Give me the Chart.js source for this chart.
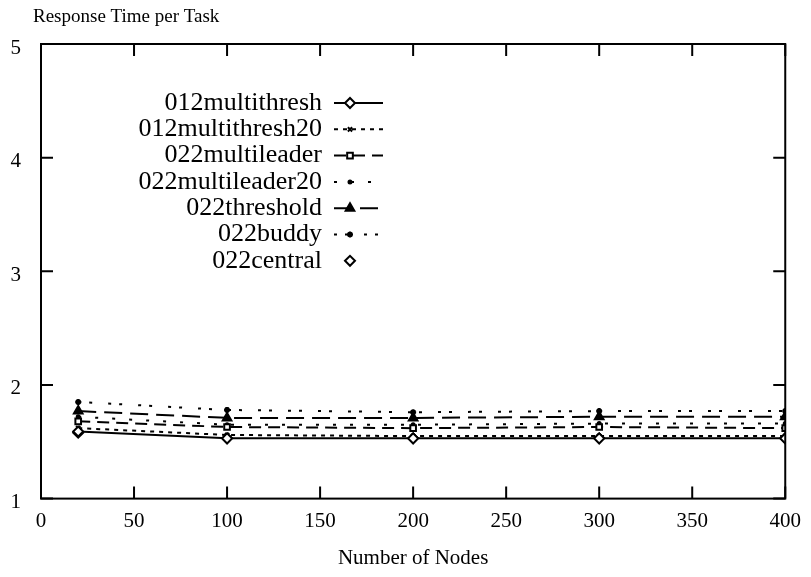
<!DOCTYPE html>
<html>
<head>
<meta charset="utf-8">
<script src="https://cdn.jsdelivr.net/npm/chart.js@4.4.1/dist/chart.umd.min.js"></script>
<style>
  html, body { margin: 0; padding: 0; background: #fff; }
  #wrap { width: 811px; height: 577px; }
</style>
</head>
<body>
<div id="wrap"><canvas id="rtChart" width="811" height="577"></canvas></div>
<script>
// x positions (number of nodes)
const nodes = [20, 100, 200, 300, 400];

// response time per task
const multithresh     = [1.59, 1.53, 1.53, 1.53, 1.53];
const multithresh20   = [1.62, 1.56, 1.55, 1.55, 1.55];
const multileader     = [1.68, 1.63, 1.62, 1.63, 1.62];
const multileader20   = [1.72, 1.65, 1.65, 1.66, 1.66];
const threshold       = [1.77, 1.71, 1.71, 1.72, 1.72];
const buddy           = [1.85, 1.78, 1.76, 1.77, 1.77];
const central         = [1.58, 1.53, 1.53, 1.53, 1.53];

const seriesNames = ['012multithresh', '012multithresh20', '022multileader',
  '022multileader20', '022threshold', '022buddy', '022central'];

const xTicks = [0, 50, 100, 150, 200, 250, 300, 350, 400];
const yTicks = [1, 2, 3, 4, 5];

const FONT = "'Liberation Serif', 'DejaVu Serif', serif";

function pts(vals) {
  return vals.map((v, i) => ({ x: nodes[i], y: v }));
}

function mk(label, vals, dash, style, radius, fill, showLine) {
  return {
    label: label,
    data: pts(vals),
    borderColor: '#000',
    backgroundColor: fill,
    borderWidth: 2,
    borderDash: dash,
    pointStyle: style,
    pointRadius: radius,
    pointBorderColor: '#000',
    pointBackgroundColor: fill,
    pointBorderWidth: 2,
    showLine: showLine,
    tension: 0,
    fill: false
  };
}

const datasets = [
  mk(seriesNames[0], multithresh,   [],            'rectRot',  5, '#fff', true),
  mk(seriesNames[1], multithresh20, [4, 5],        'crossRot', 3, '#000', true),
  mk(seriesNames[2], multileader,   [12, 7],       'rect',     4, '#fff', true),
  mk(seriesNames[3], multileader20, [3, 14],       'circle',   1.5, '#000', true),
  mk(seriesNames[4], threshold,     [18, 8],       'triangle', 5, '#000', true),
  mk(seriesNames[5], buddy,         [3, 8, 3, 16], 'star',     3, '#000', true),
  mk(seriesNames[6], central,       [],            'rectRot',  5, '#fff', false)
];

// inward ticks on all four sides, plus title text and the gnuplot-style key
const decor = {
  id: 'decor',
  afterDraw(chart) {
    const ctx = chart.ctx;
    const a = chart.chartArea;
    const xs = chart.scales.x, ys = chart.scales.y;
    ctx.save();
    ctx.strokeStyle = '#000';
    ctx.lineWidth = 2;
    ctx.setLineDash([]);
    ctx.beginPath();
    xTicks.forEach(t => {
      const px = xs.getPixelForValue(t);
      ctx.moveTo(px, a.bottom); ctx.lineTo(px, a.bottom - 12);
      ctx.moveTo(px, a.top); ctx.lineTo(px, a.top + 12);
    });
    yTicks.forEach(t => {
      const py = ys.getPixelForValue(t);
      ctx.moveTo(a.left, py); ctx.lineTo(a.left + 12, py);
      ctx.moveTo(a.right, py); ctx.lineTo(a.right - 12, py);
    });
    ctx.stroke();
    ctx.strokeRect(a.left, a.top, a.right - a.left, a.bottom - a.top);

    // ylabel, gnuplot puts it above the frame
    ctx.fillStyle = '#000';
    ctx.font = '19px ' + FONT;
    ctx.textAlign = 'left';
    ctx.textBaseline = 'middle';
    ctx.fillText('Response Time per Task', 33, 17);

    // key
    ctx.font = '26px ' + FONT;
    ctx.textAlign = 'right';
    chart.data.datasets.forEach((ds, i) => {
      const y = 103 + i * 26.3;
      ctx.fillStyle = '#000';
      ctx.fillText(ds.label, 322, y);
      if (ds.showLine !== false) {
        ctx.setLineDash(ds.borderDash);
        ctx.lineWidth = ds.borderWidth;
        ctx.beginPath();
        ctx.moveTo(334, y); ctx.lineTo(383, y);
        ctx.stroke();
      }
      ctx.setLineDash([]);
      ctx.lineWidth = ds.pointBorderWidth;
      ctx.fillStyle = ds.pointBackgroundColor;
      ctx.strokeStyle = '#000';
      Chart.helpers.drawPoint(ctx, {
        pointStyle: ds.pointStyle, radius: ds.pointRadius, rotation: 0, borderWidth: ds.pointBorderWidth
      }, 350, y);
    });
    ctx.restore();
  }
};

new Chart(document.getElementById('rtChart'), {
  type: 'scatter',
  data: { datasets: datasets },
  plugins: [decor],
  options: {
    responsive: false,
    animation: false,
    layout: { padding: { left: 8, right: 24, top: 44, bottom: 6 } },
    plugins: {
      legend: { display: false },
      tooltip: { enabled: false }
    },
    scales: {
      x: {
        type: 'linear',
        min: 0, max: 400,
        afterBuildTicks: s => { s.ticks = xTicks.map(v => ({ value: v })); },
        grid: { display: false, drawTicks: false },
        border: { display: false },
        ticks: { color: '#000', font: { family: FONT, size: 21 }, padding: 10, maxRotation: 0 },
        title: { display: true, text: 'Number of Nodes', color: '#000', font: { family: FONT, size: 21 }, padding: { top: 2, bottom: 0 } }
      },
      y: {
        min: 1, max: 5,
        afterBuildTicks: s => { s.ticks = yTicks.map(v => ({ value: v })); },
        afterFit: s => { s.width = 33; },
        grid: { display: false, drawTicks: false },
        border: { display: false },
        ticks: { color: '#000', font: { family: FONT, size: 21 }, padding: 20, labelOffset: 4 }
      }
    }
  }
});
</script>
</body>
</html>
